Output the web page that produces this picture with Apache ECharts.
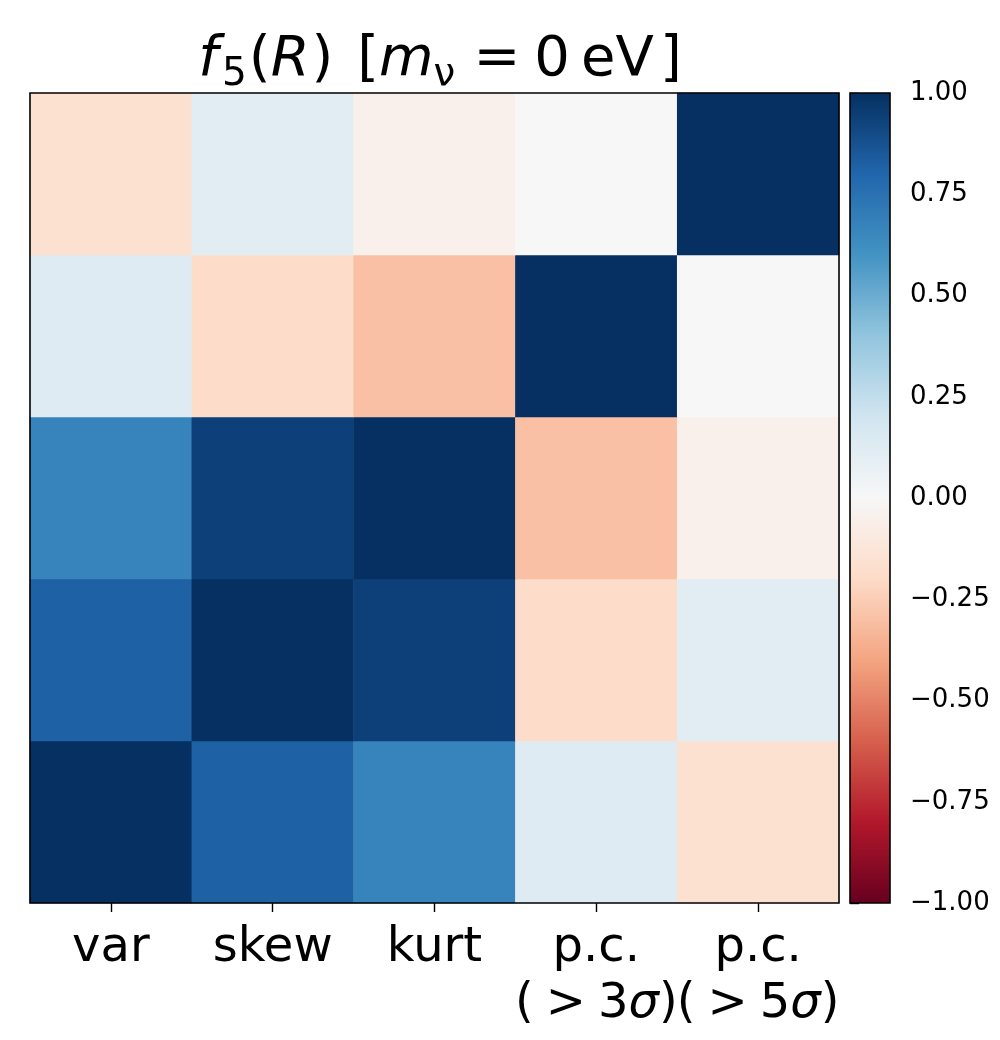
<!DOCTYPE html>
<html>
<head>
<meta charset="utf-8">
<script src="https://cdn.jsdelivr.net/npm/echarts@6/dist/echarts.min.js"></script>
<style>
  html, body { margin: 0; padding: 0; background: #fff; }
  #chart { width: 1000px; height: 1040px; }
</style>
</head>
<body>
<div id="chart"></div>
<script>
// categories, bottom to top on y, left to right on x
var categories = ['var', 'skew', 'kurt', 'pc3', 'pc5'];
var tickLabels = ['var', 'skew', 'kurt', 'p.c.\n(\u2005>\u20053{i|σ})', 'p.c.\n(\u2005>\u20055{i|σ})'];

// correlation rows (one per category)
var corrVar  = [1.00, 0.82, 0.67, 0.13, -0.16];
var corrSkew = [0.82, 1.00, 0.94, -0.19, 0.11];
var corrKurt = [0.67, 0.94, 1.00, -0.30, -0.05];
var corrPc3  = [0.13, -0.19, -0.30, 1.00, 0.00];
var corrPc5  = [-0.16, 0.11, -0.05, 0.00, 1.00];

var colorbarTicks = [-1, -0.75, -0.5, -0.25, 0, 0.25, 0.5, 0.75, 1];

// matplotlib RdBu
var RdBu = ['#67001f', '#b2182b', '#d6604d', '#f4a582', '#fddbc7', '#f7f7f7',
            '#d1e5f0', '#92c5de', '#4393c3', '#2166ac', '#053061'];

var rows = [corrVar, corrSkew, corrKurt, corrPc3, corrPc5];
var cells = [];
rows.forEach(function (row, y) {
	row.forEach(function (v, x) {
		cells.push([x, y, v]);
	});
});

// gradient for the colorbar, top is +1
var stops = RdBu.map(function (c, i) {
	return { offset: 1 - i / (RdBu.length - 1), color: c };
});

var font = 'DejaVu Sans';
var myChart = echarts.init(document.getElementById('chart'));

// mathtext-like pieces of the title
function tok(size, italic, pad) {
	return {
		fontFamily: font, fontSize: size, fontWeight: 'normal',
		fontStyle: italic ? 'italic' : 'normal', color: '#000',
		verticalAlign: 'bottom', padding: pad
	};
}

var option = {
	backgroundColor: '#fff',
	animation: false,
	title: {
		left: 435,
		top: 27,
		textAlign: 'center',
		text: '{f|f}{s|5}{n|(}{r|R}{p|) }{n|[}{i|m}{s|ν}{e|=}{n|0\u2009eV}{b|]}',
		textStyle: {
			fontWeight: 'normal',
			rich: {
				f: tok(56, true, [0, 4, 6, 0]),
				s: tok(39, false, [0, 2, 0, 0]),
				n: tok(56, false, [0, 0, 6, 0]),
				r: tok(56, true, [0, 2, 6, 0]),
				p: tok(56, false, [0, 6, 6, 0]),
				i: tok(56, true, [0, 0, 6, 0]),
				e: tok(56, false, [0, 14, 6, 16]),
				b: tok(56, false, [0, 0, 6, 6])
			}
		}
	},
	visualMap: {
		show: false,
		type: 'continuous',
		min: -1,
		max: 1,
		seriesIndex: 0,
		inRange: { color: RdBu }
	},
	grid: [
		{ left: 30, top: 93, width: 809, height: 810, show: true, z: 5,
		  backgroundColor: 'transparent', borderColor: '#000', borderWidth: 1.6 },
		{ left: 850, top: 93, width: 40, height: 810, show: true, z: 5,
		  backgroundColor: 'transparent', borderColor: '#000', borderWidth: 1.6 }
	],
	xAxis: [
		{
			gridIndex: 0,
			type: 'category',
			data: categories,
			axisLine: { show: false },
			axisTick: { show: true, alignWithLabel: true, length: 9, lineStyle: { color: '#000', width: 1.4 } },
			axisLabel: {
				interval: 0,
				hideOverlap: false,
				margin: 18,
				fontFamily: font,
				fontSize: 48,
				lineHeight: 56,
				color: '#000',
				formatter: function (v, i) { return tickLabels[i]; },
				rich: {
					i: { fontFamily: font, fontSize: 48, lineHeight: 56, fontStyle: 'italic', color: '#000' }
				}
			},
			splitLine: { show: false }
		},
		{
			gridIndex: 1,
			type: 'value',
			min: 0,
			max: 1,
			show: false
		}
	],
	yAxis: [
		{
			gridIndex: 0,
			type: 'category',
			data: categories,
			show: false
		},
		{
			gridIndex: 1,
			type: 'value',
			position: 'right',
			min: -1,
			max: 1,
			interval: 0.25,
			axisLine: { show: false },
			axisTick: { show: true, length: 9, lineStyle: { color: '#000', width: 1.4 } },
			splitLine: { show: false },
			axisLabel: {
				margin: 20,
				fontFamily: font,
				fontSize: 26,
				color: '#000',
				formatter: function (v) {
					return (v < 0 ? '\u2212' : '') + Math.abs(v).toFixed(2);
				}
			}
		}
	],
	series: [
		{
			type: 'heatmap',
			xAxisIndex: 0,
			yAxisIndex: 0,
			data: cells,
			itemStyle: { borderWidth: 0 },
			emphasis: { disabled: true },
			label: { show: false }
		},
		{
			type: 'custom',
			xAxisIndex: 1,
			yAxisIndex: 1,
			data: [[0, 1, colorbarTicks[0], colorbarTicks[colorbarTicks.length - 1]]],
			encode: { x: [0, 1], y: [2, 3] },
			silent: true,
			renderItem: function (params, api) {
				var p0 = api.coord([api.value(0), api.value(3)]);
				var p1 = api.coord([api.value(1), api.value(2)]);
				return {
					type: 'rect',
					shape: { x: p0[0], y: p0[1], width: p1[0] - p0[0], height: p1[1] - p0[1] },
					style: { fill: new echarts.graphic.LinearGradient(0, 0, 0, 1, stops) }
				};
			}
		}
	]
};

myChart.setOption(option);
</script>
</body>
</html>
